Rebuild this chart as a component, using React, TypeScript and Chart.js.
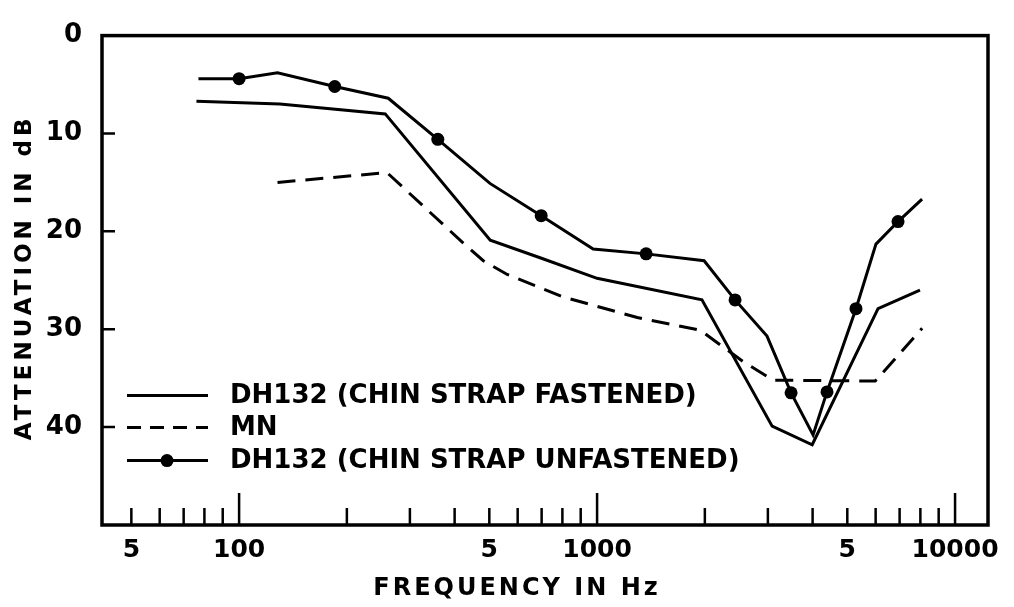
import React, { useEffect, useRef } from 'react';
import { Chart, registerables } from 'chart.js';

Chart.register(...registerables);

const FONT = '"DejaVu Sans", "Liberation Sans", sans-serif';

// ---- Data ----
const fastenedFreq = [76, 130, 256, 503, 693, 1000, 1963, 3083, 3990, 6093, 7980];
const fastenedDb = [6.7, 7.0, 8.0, 20.9, 22.7, 24.8, 27.0, 39.9, 41.8, 27.9, 26.0];

const mnFreq = [128, 259, 423, 481, 561, 804, 1295, 1941, 2558, 3104, 5984, 8093];
const mnDb = [15.0, 14.0, 21.2, 23.0, 24.4, 26.7, 28.8, 30.1, 33.3, 35.2, 35.3, 29.9];

const unfastenedFreq = [77, 100, 128, 185, 261, 359, 502, 698, 975, 1371, 1991, 2429, 2983, 3483, 4012, 4388, 5287, 6012, 6929, 8088];
const unfastenedDb = [4.4, 4.4, 3.8, 5.2, 6.4, 10.6, 15.1, 18.4, 21.8, 22.3, 23.0, 27.0, 30.7, 36.5, 40.8, 36.4, 27.9, 21.3, 19.0, 16.7];
const unfastenedMarked = [false, true, false, true, false, true, false, true, false, true, false, true, false, true, false, true, true, false, true, false];

const seriesLabels = ['DH132 (CHIN STRAP FASTENED)', 'MN', 'DH132 (CHIN STRAP UNFASTENED)'];

const xTickValues = [50, 100, 500, 1000, 5000, 10000];
const xTickLabels = ['5', '100', '5', '1000', '5', '10000'];
const xMinorTicks = [50, 60, 70, 80, 90, 200, 300, 400, 500, 600, 700, 800, 900, 2000, 3000, 4000, 5000, 6000, 7000, 8000, 9000];
const xMajorTicks = [100, 1000, 10000];
const xMin = 41.4;
const xMax = 12360;

const yTickValues = [0, 10, 20, 30, 40];
const yInnerTicks = [10, 20, 30, 40];
const yMin = 0;
const yMax = 50;

const xTitle = 'FREQUENCY IN Hz';
const yTitle = 'ATTENUATION IN dB';

const toPoints = (xs: number[], ys: number[]) => xs.map((x, i) => ({ x, y: ys[i] }));

const DASH = [18, 10];

const paperPlugin = {
  id: 'paper',
  afterDraw(chart: any) {
    const { ctx, chartArea: a, scales } = chart;
    const xs = scales.x;
    const ys = scales.y;
    ctx.save();
    ctx.strokeStyle = '#000';
    ctx.fillStyle = '#000';
    // frame
    ctx.lineWidth = 3.5;
    ctx.setLineDash([]);
    ctx.strokeRect(a.left, a.top, a.right - a.left, a.bottom - a.top);
    // inward ticks
    ctx.lineWidth = 2.5;
    ctx.beginPath();
    xMinorTicks.forEach((v) => {
      const px = xs.getPixelForValue(v);
      ctx.moveTo(px, a.bottom);
      ctx.lineTo(px, a.bottom - 17);
    });
    xMajorTicks.forEach((v) => {
      const px = xs.getPixelForValue(v);
      ctx.moveTo(px, a.bottom);
      ctx.lineTo(px, a.bottom - 32);
    });
    yInnerTicks.forEach((v) => {
      const py = ys.getPixelForValue(v);
      ctx.moveTo(a.left, py);
      ctx.lineTo(a.left + 13, py);
    });
    ctx.stroke();

    // axis titles
    ctx.textAlign = 'center';
    ctx.textBaseline = 'middle';
    ctx.font = `bold 24px ${FONT}`;
    (ctx as any).letterSpacing = '3px';
    ctx.fillText(xTitle, a.left + 415, a.bottom + 64);

    ctx.save();
    ctx.translate(25, (a.top + a.bottom) / 2 - 3);
    ctx.rotate(-Math.PI / 2);
    ctx.font = `bold 23px ${FONT}`;
    (ctx as any).letterSpacing = '4px';
    ctx.fillText(yTitle, 0, 0);
    ctx.restore();

    // legend
    (ctx as any).letterSpacing = '0px';
    ctx.font = `bold 26px ${FONT}`;
    ctx.textAlign = 'left';
    const rows = [a.top + 360, a.top + 392, a.top + 425];
    const x0 = a.left + 25;
    const x1 = a.left + 106;
    chart.data.datasets.forEach((ds: any, i: number) => {
      if (i > 2) return;
      const y = rows[i];
      ctx.lineWidth = 3;
      ctx.setLineDash(ds.borderDash && ds.borderDash.length ? [14, 9] : []);
      ctx.beginPath();
      ctx.moveTo(x0, y);
      ctx.lineTo(x1, y);
      ctx.stroke();
      ctx.setLineDash([]);
      if (i === 2) {
        ctx.beginPath();
        ctx.arc(a.left + 65, y, 6.5, 0, Math.PI * 2);
        ctx.fill();
      }
      ctx.fillText(ds.label, a.left + 128, y + 1);
    });
    ctx.restore();
  },
};

export default function App() {
  const canvasRef = useRef<HTMLCanvasElement | null>(null);

  useEffect(() => {
    const canvas = canvasRef.current;
    if (!canvas) return;
    const chart = new Chart(canvas, {
      type: 'line',
      data: {
        datasets: [
          {
            label: seriesLabels[0],
            data: toPoints(fastenedFreq, fastenedDb),
            borderColor: '#000',
            borderWidth: 3,
            pointRadius: 0,
            tension: 0,
          },
          {
            label: seriesLabels[1],
            data: toPoints(mnFreq, mnDb),
            borderColor: '#000',
            borderWidth: 3,
            borderDash: DASH,
            pointRadius: 0,
            tension: 0,
          },
          {
            label: seriesLabels[2],
            data: toPoints(unfastenedFreq, unfastenedDb),
            borderColor: '#000',
            backgroundColor: '#000',
            borderWidth: 3,
            pointRadius: (c: any) => (unfastenedMarked[c.dataIndex] ? 6.5 : 0),
            pointBackgroundColor: '#000',
            pointBorderWidth: 0,
            tension: 0,
          },
        ],
      },
      options: {
        animation: false,
        responsive: false,
        devicePixelRatio: 1,
        layout: { padding: { top: 21, right: 26, bottom: 0, left: 0 } },
        plugins: {
          legend: { display: false },
          tooltip: { enabled: false },
        },
        scales: {
          x: {
            type: 'logarithmic',
            min: xMin,
            max: xMax,
            grid: { display: false, drawTicks: false },
            border: { display: false },
            afterBuildTicks: (scale: any) => {
              scale.ticks = xTickValues.map((v) => ({ value: v }));
            },
            afterFit: (scale: any) => {
              scale.height = 82;
            },
            ticks: {
              autoSkip: false,
              maxRotation: 0,
              padding: 10,
              color: '#000',
              font: { family: FONT, size: 25, weight: 'bold' },
              callback: (_v: any, i: number) => xTickLabels[i],
            },
          },
          y: {
            type: 'linear',
            reverse: true,
            min: yMin,
            max: yMax,
            grid: { display: false, drawTicks: false },
            border: { display: false },
            afterBuildTicks: (scale: any) => {
              scale.ticks = yTickValues.map((v) => ({ value: v }));
            },
            afterFit: (scale: any) => {
              scale.width = 102;
            },
            ticks: {
              padding: 20,
              color: '#000',
              font: { family: FONT, size: 26, weight: 'bold' },
              callback: (v: any) => String(v),
            },
          },
        },
      },
      plugins: [paperPlugin],
    });
    return () => chart.destroy();
  }, []);

  return (
    <div style={{ position: 'absolute', left: 0, top: 0, width: 1014, height: 607, background: '#fff' }}>
      <canvas ref={canvasRef} width={1014} height={607} style={{ display: 'block' }} />
    </div>
  );
}
